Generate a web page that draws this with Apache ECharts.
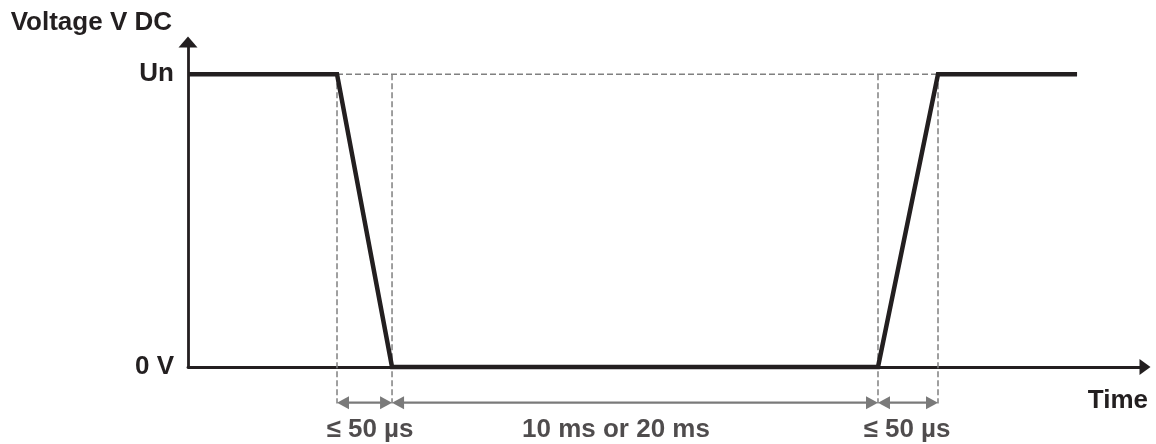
<!DOCTYPE html>
<html>
<head>
<meta charset="utf-8">
<script src="https://cdn.jsdelivr.net/npm/echarts@6/dist/echarts.min.js"></script>
<style>
  html, body { margin: 0; padding: 0; background: #ffffff; }
  #chart { width: 1156px; height: 444px; }
</style>
</head>
<body>
<div id="chart"></div>
<script>
// ---- data (time in arbitrary schematic units 0..100, voltage relative to Un) ----
const waveTimes = [0, 15.57, 21.32, 72.1, 78.37, 92.9];
const waveVoltage = [1, 1, 0, 0, 1, 1];
const markerTimes = [15.57, 21.32, 72.1, 78.37];
const unGuideSpan = [15.57, 78.37];
const dimensionStarts = [15.57, 21.32, 72.1];
const dimensionEnds = [21.32, 72.1, 78.37];
const dimensionLabels = ['≤ 50 µs', '10 ms or 20 ms', '≤ 50 µs'];
const labelTimes = [19.02, 44.72, 75.13];
const yTickValues = [0, 1];
const yTickLabels = ['0 V', 'Un'];
const guideBottom = -0.125;
const dimensionLevel = -0.122;
const labelLevel = -0.214;

const FONT = "'Liberation Sans', Arial, Helvetica, sans-serif";
const INK = '#231f20';
const GUIDE = '#808080';
const DIM = '#7a7a7a';

const chart = echarts.init(document.getElementById('chart'), null, { renderer: 'canvas' });

const wavePoints = waveTimes.map((t, i) => [t, waveVoltage[i]]);

const guideStyle = { color: GUIDE, width: 1.5, type: [6, 3] };
const guideSeries = markerTimes.map(t => ({
  type: 'line',
  data: [[t, 1], [t, guideBottom]],
  showSymbol: false,
  clip: false,
  silent: true,
  z: 1,
  lineStyle: guideStyle
}));
guideSeries.push({
  type: 'line',
  data: [[unGuideSpan[0], 1], [unGuideSpan[1], 1]],
  showSymbol: false,
  clip: false,
  silent: true,
  z: 1,
  lineStyle: guideStyle
});

const dimensionData = dimensionStarts.map((s, i) => [s, dimensionEnds[i], dimensionLevel]);
const labelData = labelTimes.map((t, i) => ({ value: [t, labelLevel], name: dimensionLabels[i] }));

const option = {
  animation: false,
  backgroundColor: '#ffffff',
  grid: { left: 188, right: 11, top: 42, bottom: 77, containLabel: false },
  xAxis: {
    type: 'value',
    min: 0,
    max: 100,
    name: 'Time',
    nameLocation: 'end',
    nameGap: 3,
    nameTextStyle: {
      fontFamily: FONT, fontWeight: 'bold', fontSize: 26, color: INK,
      align: 'right', verticalAlign: 'top', padding: [21, 0, 0, 0]
    },
    axisLine: {
      show: true, onZero: false,
      symbol: ['none', 'triangle'], symbolSize: [16, 11],
      lineStyle: { color: INK, width: 2.8 }
    },
    axisTick: { show: false },
    axisLabel: { show: false },
    splitLine: { show: false }
  },
  yAxis: {
    type: 'value',
    min: 0,
    max: 1.11,
    interval: 1,
    name: 'Voltage V DC',
    nameLocation: 'end',
    nameGap: 6,
    nameTextStyle: {
      fontFamily: FONT, fontWeight: 'bold', fontSize: 26, color: INK,
      align: 'right', verticalAlign: 'bottom', padding: [0, 16, 0, 0]
    },
    axisLine: {
      show: true,
      symbol: ['none', 'triangle'], symbolSize: [19, 11],
      lineStyle: { color: INK, width: 2.8 }
    },
    axisTick: { show: false },
    splitLine: { show: false },
    axisLabel: {
      margin: 14,
      fontFamily: FONT, fontWeight: 'bold', fontSize: 26, color: INK,
      showMaxLabel: false,
      formatter: v => {
        const idx = yTickValues.indexOf(v);
        return idx >= 0 ? yTickLabels[idx] : '';
      }
    }
  },
  series: [
    ...guideSeries,
    {
      type: 'line',
      data: wavePoints,
      showSymbol: false,
      silent: true,
      clip: false,
      z: 5,
      lineStyle: { color: INK, width: 4.5, join: 'miter' }
    },
    {
      type: 'custom',
      data: dimensionData,
      clip: false,
      silent: true,
      z: 4,
      encode: { x: [0, 1], y: 2 },
      renderItem: (params, api) => {
        const p1 = api.coord([api.value(0), api.value(2)]);
        const p2 = api.coord([api.value(1), api.value(2)]);
        const L = 12, H = 6.5;
        return {
          type: 'group',
          children: [
            { type: 'line', shape: { x1: p1[0] + L - 1, y1: p1[1], x2: p2[0] - L + 1, y2: p2[1] },
              style: { stroke: DIM, lineWidth: 2.2 } },
            { type: 'polygon', shape: { points: [[p1[0], p1[1]], [p1[0] + L, p1[1] - H], [p1[0] + L, p1[1] + H]] },
              style: { fill: DIM } },
            { type: 'polygon', shape: { points: [[p2[0], p2[1]], [p2[0] - L, p2[1] - H], [p2[0] - L, p2[1] + H]] },
              style: { fill: DIM } }
          ]
        };
      }
    },
    {
      type: 'scatter',
      data: labelData,
      symbolSize: 1,
      clip: false,
      silent: true,
      itemStyle: { color: 'rgba(0,0,0,0)' },
      label: {
        show: true,
        position: 'inside',
        formatter: p => p.name,
        fontFamily: FONT, fontWeight: 'bold', fontSize: 26, color: INK
      }
    }
  ]
};

chart.setOption(option);
</script>
</body>
</html>
